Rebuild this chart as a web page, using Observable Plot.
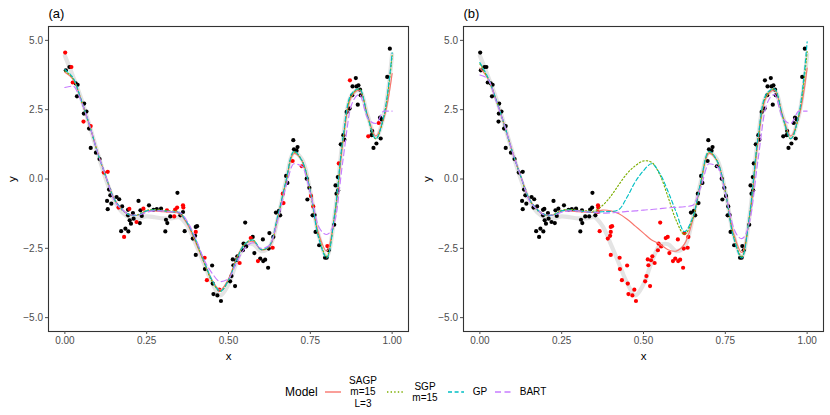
<!DOCTYPE html>
<html><head><meta charset="utf-8">
<script src="https://cdn.jsdelivr.net/npm/d3@7"></script>
<script src="https://cdn.jsdelivr.net/npm/@observablehq/plot@0.6"></script>
<style>
body{margin:0;background:#fff;font-family:"Liberation Sans",Arial,sans-serif;}
#wrap{position:relative;width:830px;height:415px;overflow:hidden;}
#row{display:flex;}
#legend{position:absolute;left:0;top:365px;width:830px;height:50px;}
.lg{position:absolute;font-size:10px;color:#000;text-align:center;line-height:11.3px;white-space:nowrap;}
.key{position:absolute;}
</style></head><body>
<div id="wrap"><div id="row"></div><div id="legend"></div></div>
<script>
// ---- observations ----
const xs = [0.001,0.003,0.014,0.020,0.024,0.039,0.033,0.037,0.059,0.058,0.066,0.057,0.079,0.074,0.079,0.095,0.106,0.119,0.131,0.135,
0.129,0.131,0.139,0.142,0.158,0.166,0.175,0.164,0.193,0.197,0.172,0.185,0.194,0.181,0.193,0.198,0.202,0.208,0.210,0.219,
0.225,0.229,0.231,0.240,0.235,0.257,0.271,0.281,0.294,0.307,0.309,0.313,0.312,0.322,0.334,0.337,0.343,0.344,0.353,0.361,
0.362,0.361,0.366,0.391,0.400,0.404,0.400,0.398,0.400,0.427,0.428,0.434,0.450,0.452,0.454,0.466,0.472,0.477,0.505,0.509,
0.520,0.513,0.515,0.523,0.527,0.534,0.551,0.546,0.544,0.554,0.568,0.574,0.579,0.590,0.597,0.605,0.606,0.612,0.621,0.623,
0.625,0.635,0.637,0.645,0.654,0.658,0.668,0.676,0.680,0.666,0.696,0.698,0.700,0.711,0.708,0.724,0.739,0.747,0.752,0.741,
0.757,0.759,0.763,0.766,0.777,0.795,0.800,0.802,0.806,0.823,0.835,0.830,0.827,0.834,0.837,0.843,0.851,0.854,0.861,0.870,
0.871,0.879,0.878,0.889,0.891,0.897,0.902,0.904,0.895,0.927,0.939,0.937,0.943,0.952,0.965,0.959,0.963,0.968,0.985,0.993];
const ys = [4.56,3.92,4.04,4.04,3.48,3.40,3.45,2.98,2.72,2.36,2.43,2.07,1.91,1.82,1.12,0.95,0.72,0.23,0.26,-0.38,
-0.79,-1.09,-0.59,-0.89,-0.65,-0.73,-0.99,-1.03,-1.11,-1.08,-1.88,-1.79,-1.89,-2.09,-1.31,-1.49,-1.61,-1.23,-1.43,-1.55,
-0.79,-1.59,-1.13,-1.07,-1.33,-0.95,-1.11,-1.09,-1.07,-1.89,-1.47,-1.59,-1.13,-1.35,-1.35,-1.10,-1.03,-0.50,-1.31,-0.95,
-1.03,-1.19,-1.88,-2.15,-1.73,-1.70,-1.91,-2.05,-2.74,-2.84,-3.25,-3.65,-3.12,-3.77,-4.15,-4.20,-3.99,-4.40,-3.69,-3.50,
-3.86,-2.90,-3.11,-2.93,-2.79,-3.03,-1.57,-2.33,-2.57,-2.43,-2.13,-2.09,-2.67,-2.96,-2.87,-2.18,-2.96,-2.91,-3.20,-2.51,
-1.95,-2.48,-2.09,-1.21,-1.15,-1.31,-0.87,0.11,-0.14,-0.53,0.65,1.40,1.07,1.15,1.02,0.46,0.01,-0.32,-0.61,-0.74,
-1.31,-0.99,-1.30,-1.91,-2.39,-2.84,-2.84,-2.42,-2.57,-1.65,-0.41,-0.53,-0.23,0.07,0.56,1.25,1.58,1.42,2.42,2.54,
3.56,3.34,3.02,3.64,3.34,3.38,3.22,3.02,2.68,1.54,1.73,1.58,1.12,1.28,1.46,2.02,2.21,2.15,3.68,4.70];
// held out at random in panel (a): 1 = red
const redA = [1,0,0,1,1,0,0,0,0,0,0,1,1,0,0,0,0,1,1,0,
0,0,0,0,0,0,0,1,0,1,0,0,0,1,0,0,0,0,0,1,
0,0,0,1,0,0,0,0,0,0,0,0,1,0,1,1,1,0,0,1,
1,0,0,0,0,0,1,0,0,1,0,1,0,0,0,0,1,0,0,0,
0,0,0,0,0,1,0,0,0,0,1,0,0,1,0,0,0,0,0,0,
0,1,0,0,0,0,1,0,0,1,1,0,0,0,0,1,0,0,1,0,
0,1,0,0,0,0,0,1,0,0,0,0,0,0,1,0,0,0,0,0,
1,0,0,0,0,0,0,0,0,1,0,0,0,0,0,1,0,0,0,0];
// held-out interval in panel (b)
const gapB = [0.355, 0.64];

// ---- fitted curves on a grid ----
const xGrid = [0,0.025,0.05,0.075,0.1,0.125,0.15,0.175,0.2,0.225,0.25,0.275,0.3,0.325,0.35,0.375,0.4,0.425,0.45,0.475,
0.5,0.525,0.55,0.575,0.6,0.625,0.65,0.675,0.7,0.725,0.75,0.775,0.8,0.825,0.85,0.875,0.9,0.925,0.95,0.975,1];
const truth = [4.45,3.7,2.9,1.95,0.95,0.0,-0.75,-1.2,-1.4,-1.42,-1.35,-1.38,-1.42,-1.42,-1.38,-1.7,-2.35,-3.05,-3.75,-4.2,
-3.8,-3.0,-2.4,-2.35,-2.6,-2.45,-1.45,-0.1,0.95,0.7,-0.45,-2.0,-2.8,-1.25,1.5,3.0,3.2,2.3,1.5,2.3,4.5];
const sagpA = [3.85,3.6,2.85,1.95,0.97,0.1,-0.7,-1.1,-1.3,-1.3,-1.15,-1.15,-1.18,-1.2,-1.25,-1.65,-2.3,-3.0,-3.65,-4.0,
-3.6,-2.85,-2.35,-2.25,-2.55,-2.45,-1.45,-0.15,0.92,0.65,-0.45,-1.95,-2.6,-1.3,1.35,2.95,3.2,2.3,1.55,2.2,3.8];
const sgpA = [3.9,3.62,2.83,1.93,0.95,0.08,-0.72,-1.12,-1.3,-1.28,-1.13,-1.1,-1.13,-1.15,-1.2,-1.6,-2.25,-3.0,-3.7,-4.05,
-3.65,-2.88,-2.33,-2.2,-2.55,-2.42,-1.4,-0.12,0.97,0.65,-0.45,-2.05,-2.8,-1.25,1.45,3.0,3.25,2.25,1.45,2.25,4.45];
const gpA = [3.95,3.65,2.85,1.95,0.95,0.1,-0.7,-1.1,-1.3,-1.3,-1.15,-1.12,-1.15,-1.18,-1.22,-1.6,-2.2,-2.95,-3.65,-4.05,
-3.65,-2.9,-2.35,-2.2,-2.55,-2.4,-1.35,-0.1,1.0,0.65,-0.45,-2.1,-2.85,-1.2,1.5,3.05,3.25,2.25,1.45,2.3,4.55];
const bartA = [3.3,3.35,2.8,1.95,0.95,0.1,-0.75,-1.1,-1.3,-1.3,-1.2,-1.15,-1.15,-1.18,-1.2,-1.55,-2.15,-2.9,-3.4,-3.7,
-3.6,-3.0,-2.5,-2.3,-2.5,-2.4,-1.5,-0.3,0.55,0.45,-0.5,-1.7,-2.0,-1.5,0.7,2.65,3.05,2.2,2.0,2.45,2.45];
const sagpB = [4.0,3.62,2.85,1.95,0.97,0.1,-0.7,-1.1,-1.3,-1.3,-1.15,-1.15,-1.18,-1.2,-1.2,-1.12,-1.15,-1.25,-1.45,-1.7,
-1.95,-2.2,-2.35,-2.55,-2.6,-2.35,-1.5,-0.15,0.92,0.65,-0.45,-1.95,-2.65,-1.3,1.35,2.95,3.2,2.3,1.55,2.25,4.0];
const sgpB = [4.15,3.62,2.83,1.93,0.95,0.08,-0.72,-1.12,-1.3,-1.28,-1.13,-1.1,-1.13,-1.15,-1.15,-0.95,-0.62,-0.2,0.2,0.48,
0.65,0.6,0.15,-0.65,-1.5,-2.0,-1.45,-0.12,0.97,0.65,-0.45,-2.05,-2.8,-1.25,1.45,3.0,3.25,2.25,1.45,2.3,4.6];
const gpB = [4.2,3.65,2.85,1.95,0.95,0.1,-0.7,-1.1,-1.3,-1.3,-1.15,-1.12,-1.15,-1.18,-1.2,-1.18,-1.17,-1.1,-0.65,-0.1,
0.3,0.55,0.2,-0.45,-1.2,-1.9,-1.4,-0.1,1.0,0.65,-0.45,-2.1,-2.85,-1.2,1.5,3.05,3.25,2.25,1.45,2.35,4.95];
const bartB = [3.75,3.6,2.8,1.95,0.95,0.1,-0.75,-1.1,-1.3,-1.3,-1.2,-1.15,-1.15,-1.18,-1.2,-1.23,-1.22,-1.2,-1.17,-1.15,
-1.12,-1.1,-1.07,-1.04,-1.02,-1.0,-0.95,-0.3,0.55,0.45,-0.5,-1.75,-2.15,-1.5,0.7,2.65,3.05,2.2,2.0,2.45,2.45];

const xTicks = [0,0.25,0.5,0.75,1];
const yTicks = [-5,-2.5,0,2.5,5];
const models = ["SAGP","SGP","GP","BART"];
const modelLabels = [["SAGP","m=15","L=3"],["SGP","m=15"],["GP"],["BART"]];
const colors = {SAGP:"#F8766D", SGP:"#7CAE00", GP:"#00BFC4", BART:"#C77CFF"};
const dashes = {SAGP:null, SGP:"1.4,2.2", GP:"4,2.6", BART:"6,3.5"};
const curves = {SAGP:"catmull-rom", SGP:"catmull-rom", GP:"catmull-rom", BART:"monotone-x"};

function panel(tag, fits, isRed){
  const pts = xs.map((x,i)=>({x, y: ys[i], red: isRed(i)}));
  const lineData = arr => xGrid.map((x,i)=>({x, y: arr[i]}));
  const modelMarks = models.map(m => Plot.line(lineData(fits[m]), {
    x:"x", y:"y", stroke: colors[m], strokeWidth: 1.15,
    strokeDasharray: dashes[m] || undefined, curve: curves[m]
  }));
  return Plot.plot({
    width:415, height:365, marginLeft:48, marginRight:7, marginTop:26, marginBottom:34,
    style:{fontFamily:"'Liberation Sans', Arial, sans-serif", background:"white", overflow:"visible"},
    x:{domain:[-0.05,1.05]},
    y:{domain:[-5.5,5.5]},
    marks:[
      Plot.line(lineData(truth), {x:"x", y:"y", stroke:"#e4e4e4", strokeWidth:4.2, curve:"catmull-rom"}),
      Plot.dot(pts.filter(d=>!d.red), {x:"x", y:"y", r:2.1, fill:"black"}),
      Plot.dot(pts.filter(d=>d.red), {x:"x", y:"y", r:2.1, fill:"#FF0000"}),
      ...modelMarks,
      Plot.frame({stroke:"#333333", strokeWidth:1.1}),
      Plot.axisX({ticks:xTicks, tickFormat:d3.format(".2f"), tickSize:3, tickPadding:2.5, fontSize:10, color:"#4d4d4d", label:null}),
      Plot.axisY({ticks:yTicks, tickFormat:d3.format(".1f"), tickSize:3, tickPadding:2.5, fontSize:10, color:"#4d4d4d", label:null}),
      Plot.text(["x"], {frameAnchor:"bottom", dy:25, lineAnchor:"middle", fontSize:11.5, fill:"black", text:d=>d}),
      Plot.text(["y"], {frameAnchor:"left", dx:-36, rotate:-90, lineAnchor:"middle", textAnchor:"middle", fontSize:11.5, fill:"black", text:d=>d}),
      Plot.text([tag], {frameAnchor:"top-left", dy:-13, lineAnchor:"middle", textAnchor:"start", fontSize:13, fill:"black", text:d=>d})
    ]
  });
}

const row = document.getElementById("row");
row.appendChild(panel("(a)", {SAGP:sagpA, SGP:sgpA, GP:gpA, BART:bartA}, i => redA[i] === 1));
row.appendChild(panel("(b)", {SAGP:sagpB, SGP:sgpB, GP:gpB, BART:bartB}, i => xs[i] >= gapB[0] && xs[i] <= gapB[1]));

// ---- legend ----
const lg = document.getElementById("legend");
const title = document.createElement("div");
title.className = "lg"; title.textContent = "Model";
title.style.cssText = "left:285px;top:20px;font-size:12px;line-height:14px;";
lg.appendChild(title);
const keyLeft = [323, 385, 446, 493];
const labLeft = [343, 405, 470, 518];
const labWidth = [40, 40, 20, 30];
models.forEach((m, k) => {
  const ns = "http://www.w3.org/2000/svg";
  const svg = document.createElementNS(ns, "svg");
  svg.setAttribute("width", 20); svg.setAttribute("height", 12);
  svg.setAttribute("class", "key");
  svg.style.left = keyLeft[k] + "px"; svg.style.top = "21px";
  const ln = document.createElementNS(ns, "line");
  ln.setAttribute("x1", 2); ln.setAttribute("x2", 18);
  ln.setAttribute("y1", 6); ln.setAttribute("y2", 6);
  ln.setAttribute("stroke", colors[m]); ln.setAttribute("stroke-width", 1.4);
  if (dashes[m]) ln.setAttribute("stroke-dasharray", dashes[m]);
  svg.appendChild(ln);
  lg.appendChild(svg);
  const lab = document.createElement("div");
  lab.className = "lg";
  const lines = modelLabels[k];
  lab.innerHTML = lines.join("<br>");
  lab.style.left = labLeft[k] + "px";
  lab.style.width = labWidth[k] + "px";
  lab.style.top = (27 - lines.length * 11.3 / 2) + "px";
  lg.appendChild(lab);
});
</script></body></html>
